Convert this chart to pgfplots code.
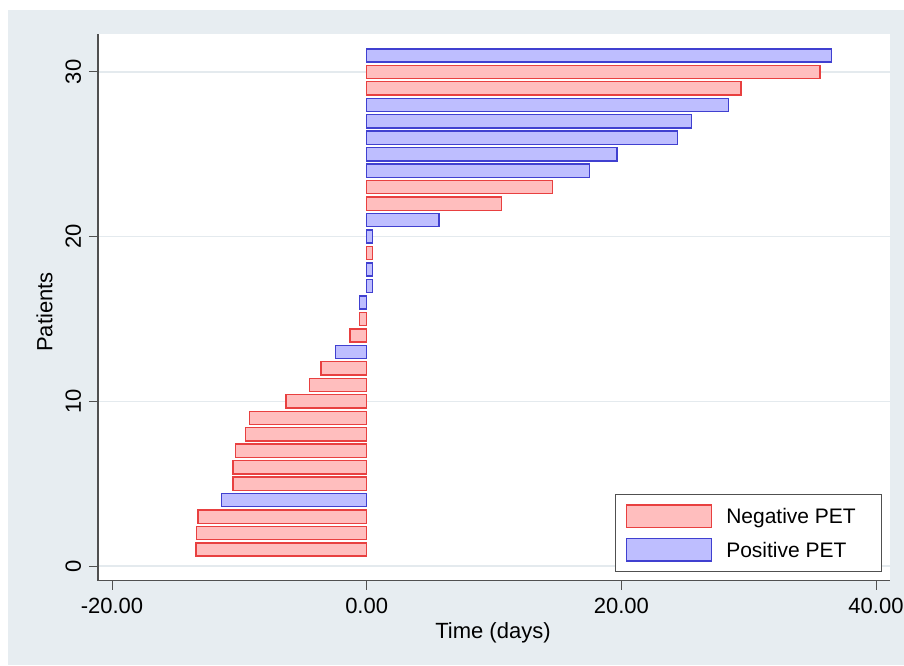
\documentclass[border=0pt]{standalone}
\usepackage{fontspec}
\setmainfont{Liberation Sans}
\usepackage{pgfplots}
\pgfplotsset{compat=1.18}
\definecolor{bg}{RGB}{231,237,241}
\definecolor{gridc}{RGB}{228,234,238}
\definecolor{axc}{RGB}{80,80,80}
\definecolor{negf}{RGB}{255,190,190}
\definecolor{nege}{RGB}{232,64,64}
\definecolor{posf}{RGB}{190,190,255}
\definecolor{pose}{RGB}{64,64,208}
\begin{document}
\fontsize{22}{26}\selectfont
\begin{tikzpicture}
\fill[white] (-98pt,-84.3pt) rectangle (806pt,580.7pt);
\useasboundingbox (-98pt,-84.3pt) rectangle (806pt,580.7pt);
\fill[bg] (-90pt,-84.3pt) rectangle (806pt,570.7pt);
\begin{axis}[
  at={(0pt,0pt)}, anchor=south west,
  scale only axis,
  width=792pt, height=546.7pt,
  xmin=-21.1, xmax=41.1, ymin=-0.89, ymax=32.3,
  axis x line*=bottom, axis y line*=left,
  axis line style={axc, line width=1.3pt},
  xtick={-20,0,20,40}, xticklabels={-20.00,0.00,20.00,40.00},
  ytick={0,10,20,30}, yticklabels={0,10,20,30},
  tick align=outside, major tick length=9pt,
  tick style={axc, line width=1pt},
  ymajorgrids, grid style={gridc, line width=1.6pt},
  axis background/.style={fill=white},
  xticklabel style={font=\fontsize{22}{26}\selectfont, anchor=base, inner sep=0pt},
  xticklabel shift=23.3pt,
  yticklabel style={font=\fontsize{22}{26}\selectfont, rotate=90, anchor=base, inner sep=0pt},
  yticklabel shift=8pt,
  xlabel={Time (days)},
  xlabel style={font=\fontsize{22}{26}\selectfont, at={(axis description cs:0.4987,-0.1052)}, anchor=base, inner sep=0pt},
  ylabel={Patients},
  ylabel style={font=\fontsize{22}{26}\selectfont, at={(axis description cs:-0.0577,0.4914)}, anchor=base, inner sep=0pt},
  xbar, bar width=0.8,
  legend cell align=left,
  legend style={at={(axis description cs:1,0)}, anchor=south east, xshift=-7.7pt, yshift=8.4pt,
    draw=axc, line width=1pt, fill=white, inner xsep=10pt, inner ysep=10pt, row sep=9.3pt,
    column sep=14.3pt,
    font=\fontsize{21}{24}\selectfont, nodes={inner sep=0pt, text depth=0pt}},
]
\addplot[xbar, bar shift=0pt, draw=nege, fill=negf, line width=1.4pt,
  legend image code/.code={\draw[draw=nege, fill=negf, line width=1.4pt] (0pt,-11.35pt) rectangle (85pt,11.35pt);}]
  coordinates {(-13.4,1) (-13.35,2) (-13.25,3) (-10.5,5) (-10.5,6) (-10.3,7) (-9.5,8) (-9.2,9)
  (-6.35,10) (-4.5,11) (-3.6,12) (-1.3,14) (-0.57,15) (0.45,19) (10.6,22) (14.6,23) (29.4,29) (35.6,30)};
\addlegendentry{Negative PET\hspace*{16pt}}
\addplot[xbar, bar shift=0pt, draw=pose, fill=posf, line width=1.4pt,
  legend image code/.code={\draw[draw=pose, fill=posf, line width=1.4pt] (0pt,-11.35pt) rectangle (85pt,11.35pt);}]
  coordinates {(-11.4,4) (-2.44,13) (-0.55,16) (0.45,17) (0.45,18) (0.48,20) (5.67,21)
  (17.5,24) (19.65,25) (24.4,26) (25.5,27) (28.4,28) (36.5,31)};
\addlegendentry{Positive PET}
\end{axis}
\end{tikzpicture}
\end{document}
